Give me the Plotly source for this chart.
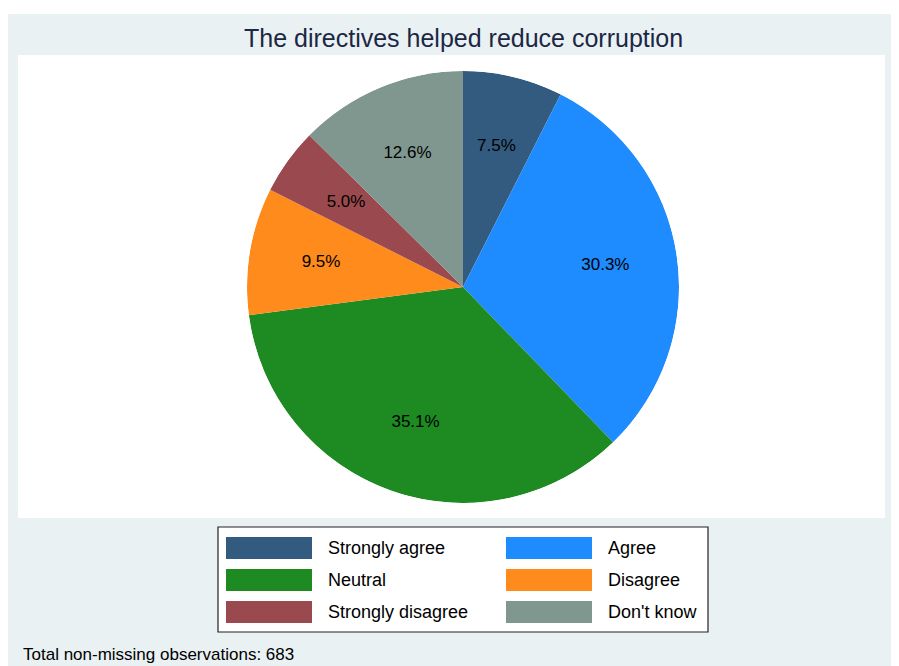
import plotly.graph_objects as go

# page body has an 8px margin, so the figure sits at (8, 8) in the window
W, H = 891, 658
OX, OY = 8, 8

labels = ["Strongly agree", "Agree", "Neutral", "Disagree", "Strongly disagree", "Don't know"]
counts = [51, 207, 240, 65, 34, 86]
colors = ["#335A7F", "#1E8CFF", "#1D8A22", "#FF8B1C", "#9A4A4F", "#7F978E"]

title = "The directives helped reduce corruption"
note = "Total non-missing observations: 683"

FONT = "Liberation Sans, Arial"


def px(x):
    return (x - OX) / W


def py(y):
    return 1 - (y - OY) / H


# slice angles (degrees, clockwise from 12 o'clock)
total = sum(counts)
shares = [c / total for c in counts]
widths = [s * 360 for s in shares]
mids = []
acc = 0
for w in widths:
    mids.append(acc + w / 2)
    acc += w
pct_text = [f"{s * 100:.1f}%" for s in shares]

pie_dom = dict(x=[px(247), px(679)], y=[py(503), py(71)])

fig = go.Figure()
fig.add_trace(
    go.Barpolar(
        r=[1] * len(counts),
        theta=mids,
        width=widths,
        marker=dict(color=colors, line=dict(width=0)),
        customdata=pct_text,
        text=labels,
        hovertemplate="%{text}: %{customdata}<extra></extra>",
        showlegend=False,
    )
)
# percentage labels at 2/3 of the radius, as Stata places them
fig.add_trace(
    go.Scatterpolar(
        r=[2 / 3] * len(mids),
        theta=mids,
        mode="text",
        text=pct_text,
        textfont=dict(size=17, color="black", family=FONT),
        hoverinfo="skip",
        showlegend=False,
    )
)

shapes = [
    # outer graph region
    dict(type="rect", xref="paper", yref="paper", x0=px(8), x1=1, y0=0, y1=py(14),
         fillcolor="#EAF1F3", line=dict(width=0), layer="below"),
    # plot region
    dict(type="rect", xref="paper", yref="paper", x0=px(18), x1=px(885), y0=py(518), y1=py(55),
         fillcolor="white", line=dict(width=0), layer="below"),
    # legend box
    dict(type="rect", xref="paper", yref="paper", x0=px(218), x1=px(708), y0=py(632), y1=py(527),
         fillcolor="white", line=dict(color="#222222", width=1.2), layer="below"),
]

annotations = [
    dict(text=title, x=px(463), y=py(38), xref="paper", yref="paper", showarrow=False,
         xanchor="center", yanchor="middle",
         font=dict(size=25, color="#1C2745", family=FONT)),
    dict(text=note, x=px(21), y=py(654), xref="paper", yref="paper", showarrow=False,
         xanchor="left", yanchor="middle",
         font=dict(size=17, color="black", family=FONT)),
]

# legend: 2 columns, 3 rows
for i, (lab, col) in enumerate(zip(labels, colors)):
    c, r = i % 2, i // 2
    x0 = 226 + c * 280
    yc = 548 + r * 32
    shapes.append(dict(type="rect", xref="paper", yref="paper",
                       x0=px(x0), x1=px(x0 + 86), y0=py(yc + 11), y1=py(yc - 11),
                       fillcolor=col, line=dict(width=0)))
    annotations.append(dict(text=lab, x=px(x0 + 100), y=py(yc), xref="paper", yref="paper",
                            showarrow=False, xanchor="left", yanchor="middle",
                            font=dict(size=18, color="black", family=FONT)))

fig.update_layout(
    width=W,
    height=H,
    margin=dict(l=0, r=0, t=0, b=0),
    paper_bgcolor="white",
    polar=dict(
        domain=pie_dom,
        bgcolor="rgba(0,0,0,0)",
        bargap=0,
        radialaxis=dict(range=[0, 1], visible=False),
        angularaxis=dict(rotation=90, direction="clockwise", visible=False),
    ),
    shapes=shapes,
    annotations=annotations,
)

fig.write_html("out.html")
